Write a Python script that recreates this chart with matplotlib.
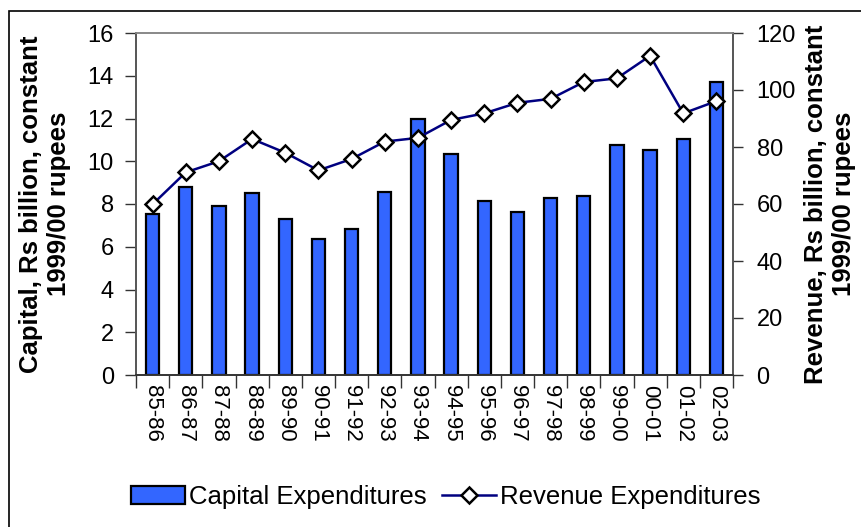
import matplotlib.pyplot as plt
from matplotlib.patches import Rectangle
from matplotlib.lines import Line2D

years = ['85-86', '86-87', '87-88', '88-89', '89-90', '90-91', '91-92', '92-93', '93-94',
         '94-95', '95-96', '96-97', '97-98', '98-99', '99-00', '00-01', '01-02', '02-03']
capital = [7.52, 8.78, 7.9, 8.51, 7.28, 6.36, 6.83, 8.56, 12.0,
           10.34, 8.15, 7.61, 8.27, 8.36, 10.77, 10.53, 11.03, 13.71]
revenue = [59.9, 71.1, 75.0, 82.8, 78.0, 71.8, 75.8, 81.9, 83.2,
           89.5, 91.8, 95.5, 96.9, 102.8, 104.1, 112.0, 91.8, 96.1]

plt.rcParams['font.family'] = ['Liberation Sans', 'DejaVu Sans']

fig = plt.figure(figsize=(8.61, 5.27), dpi=100)
ax = fig.add_axes([136 / 861, 1 - 375 / 527, 597 / 861, 342 / 527])
ax2 = ax.twinx()

x = range(len(years))
ax.bar(x, capital, width=0.4, color='#3366FF', edgecolor='black', linewidth=1.6, zorder=2)
ax2.plot(x, revenue, color='#000080', linewidth=1.8, marker='D', markersize=8,
         markerfacecolor='white', markeredgecolor='black', markeredgewidth=1.8, zorder=3)

ax.set_xlim(-0.5, len(years) - 0.5)
ax.set_ylim(0, 16)
ax2.set_ylim(0, 120)
ax.set_yticks(range(0, 17, 2))
ax2.set_yticks(range(0, 121, 20))

# ticks between the categories, labels centred under the bars
ax.set_xticks([i + 0.5 for i in range(-1, len(years))], minor=False)
ax.set_xticklabels([])
ax.set_xticks(list(x), minor=True)
ax.set_xticklabels(years, minor=True, rotation=270, fontsize=16)
ax.tick_params(axis='x', which='major', direction='out', length=9, width=1, color='#333333')
ax.tick_params(axis='x', which='minor', length=0, pad=7)
ax.tick_params(axis='y', direction='out', length=8, width=1, color='#333333', labelsize=17, pad=8)
ax2.tick_params(axis='y', direction='out', length=7, width=1, color='#333333', labelsize=17, pad=10)

for a in (ax, ax2):
    for s in a.spines.values():
        s.set_color('#555555')
        s.set_linewidth(1.2)
    a.spines['top'].set_color('#888888')
    a.spines['bottom'].set_color('#333333')

ax.set_ylabel('Capital, Rs billion, constant\n1999/00 rupees', fontsize=18.5,
              fontweight='bold', labelpad=12, linespacing=1.2)
ax2.set_ylabel('Revenue, Rs billion, constant\n1999/00 rupees', fontsize=18.5,
               fontweight='bold', rotation=90, labelpad=6, linespacing=1.2)

handles = [Rectangle((0, 0), 1, 1, facecolor='#3366FF', edgecolor='black', linewidth=1.6),
           Line2D([], [], color='#000080', linewidth=1.8, marker='D', markersize=8,
                  markerfacecolor='white', markeredgecolor='black', markeredgewidth=1.8)]
fig.legend(handles, ['Capital Expenditures', 'Revenue Expenditures'], loc='center',
           bbox_to_anchor=(446 / 861, 1 - 497 / 527), ncol=2, frameon=False, fontsize=18.5,
           handlelength=2.1, handletextpad=0.15, columnspacing=0.6)

fig.patches.append(Rectangle((9 / 861, -0.1), 1.2, 1.1 - 11 / 527, transform=fig.transFigure,
                             fill=False, edgecolor='black', linewidth=1.2))

fig.savefig('out.png', dpi=100)
